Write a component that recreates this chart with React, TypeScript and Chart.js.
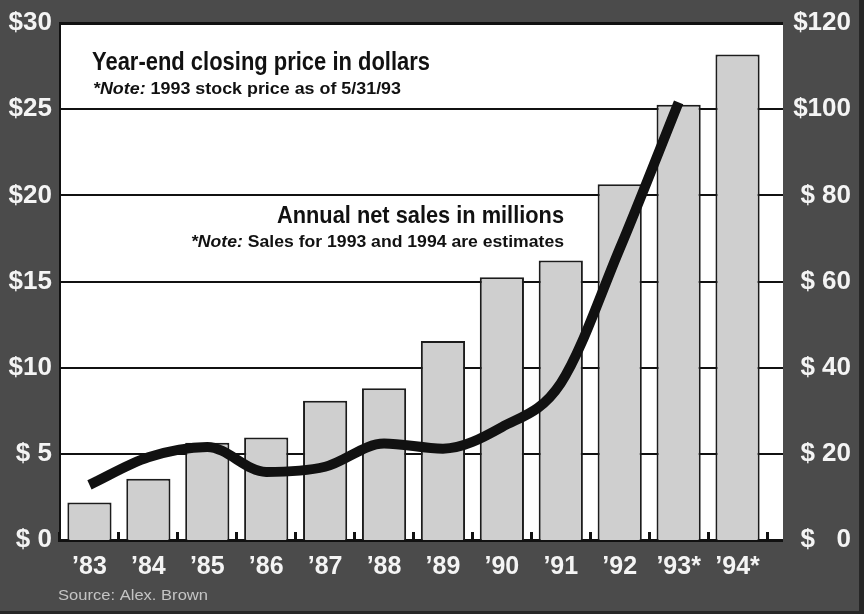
import { useEffect, useRef } from 'react';
import { Chart, registerables } from 'chart.js';

Chart.register(...registerables);

// ---- data ----
const years = ['’83', '’84', '’85', '’86', '’87', '’88', '’89', '’90', '’91', '’92', '’93*', '’94*'];
const annualSalesMillions = [8.7, 14.2, 22.6, 23.8, 32.3, 35.2, 46.2, 61, 64.9, 82.6, 101, 112.7];
const closingPriceDollars = [3.2, 4.8, 5.4, 3.95, 4.25, 5.6, 5.3, 6.55, 9.1, 16.9, 25.4, null];
const priceTickLabels = ['$ 0', '$ 5', '$10', '$15', '$20', '$25', '$30'];
const salesTickLabels = ['$ \u20070', '$ 20', '$ 40', '$ 60', '$ 80', '$100', '$120'];

const titlePrice = 'Year-end closing price in dollars';
const notePriceLead = '*Note:';
const notePriceText = ' 1993 stock price as of 5/31/93';
const titleSales = 'Annual net sales in millions';
const noteSalesLead = '*Note:';
const noteSalesText = ' Sales for 1993 and 1994 are estimates';
const sourceText = 'Source: Alex. Brown';

// ---- style ----
const FAMILY = '"Liberation Sans", Arial, sans-serif';
const NARROW = '"Liberation Sans Narrow", "Liberation Sans", Arial, sans-serif';
const BG = '#4b4b4b';
const INK = '#111111';
const LABEL = '#f4f4f4';
const TICK_FONT = { family: FAMILY, size: 26, weight: 'bold' as const };
const EXT = 16;

type Part = { text: string; font: string };

function fitText(ctx: CanvasRenderingContext2D, parts: Part[], x: number, baseline: number, width: number, align: 'left' | 'right', color: string) {
  let natural = 0;
  for (const p of parts) {
    ctx.font = p.font;
    natural += ctx.measureText(p.text).width;
  }
  const s = width / natural;
  ctx.save();
  ctx.fillStyle = color;
  ctx.textBaseline = 'alphabetic';
  ctx.textAlign = 'left';
  const startX = align === 'left' ? x : x - width;
  ctx.translate(startX, baseline);
  ctx.scale(s, 1);
  let cx = 0;
  for (const p of parts) {
    ctx.font = p.font;
    ctx.fillText(p.text, cx, 0);
    cx += ctx.measureText(p.text).width;
  }
  ctx.restore();
}

const framePlugin = {
  id: 'frame',
  beforeDraw(chart: any) {
    const { ctx, chartArea, width, height } = chart;
    const { left, top, right, bottom } = chartArea;
    ctx.save();
    ctx.fillStyle = BG;
    ctx.fillRect(0, 0, width, height);
    ctx.fillStyle = '#262626';
    ctx.fillRect(width - 5, 0, 5, height);
    ctx.fillRect(0, height - 3, width, 3);
    ctx.fillStyle = '#ffffff';
    ctx.fillRect(left, top, right - left + EXT, bottom - top);
    ctx.restore();
  },
  afterDraw(chart: any) {
    const { ctx, chartArea } = chart;
    const { left, right } = chartArea;
    const y = chart.scales.y;
    ctx.save();
    ctx.strokeStyle = INK;
    y.ticks.forEach((t: any, i: number) => {
      const lw = t.value === 30 || t.value === 0 ? 3 : 2;
      const py = Math.round(y.getPixelForTick(i)) + (lw % 2 ? 0.5 : 0);
      ctx.lineWidth = lw;
      ctx.beginPath();
      ctx.moveTo(t.value === 30 ? left : right - 1, py);
      ctx.lineTo(right + EXT, py);
      ctx.stroke();
    });
    ctx.restore();

    fitText(ctx, [{ text: titlePrice, font: `bold 25px ${NARROW}` }], 92, 70, 338, 'left', INK);
    fitText(ctx, [
      { text: notePriceLead, font: `italic bold 17px ${NARROW}` },
      { text: notePriceText, font: `bold 17px ${NARROW}` },
    ], 93, 94, 308, 'left', INK);
    fitText(ctx, [{ text: titleSales, font: `bold 24px ${NARROW}` }], 564, 223, 287, 'right', INK);
    fitText(ctx, [
      { text: noteSalesLead, font: `italic bold 17px ${NARROW}` },
      { text: noteSalesText, font: `bold 17px ${NARROW}` },
    ], 564, 247, 373, 'right', INK);
    fitText(ctx, [{ text: sourceText, font: `14px ${FAMILY}` }], 58, 600, 150, 'left', '#c4c4c4');
  },
};

const zeroPad = (s: any) => {
  s.paddingTop = 0;
  s.paddingBottom = 0;
  s.paddingLeft = 0;
  s.paddingRight = 0;
};

export default function App() {
  const ref = useRef<HTMLCanvasElement>(null);
  useEffect(() => {
    document.body.style.margin = '0';
    const canvas = ref.current!;

    const chart = new Chart(canvas, {
      data: {
        labels: years,
        datasets: [
          {
            type: 'line' as const,
            label: 'Year-end closing price',
            data: closingPriceDollars,
            yAxisID: 'y',
            borderColor: INK,
            borderWidth: 10,
            pointRadius: 0,
            cubicInterpolationMode: 'monotone' as const,
            fill: false,
            order: 0,
          },
          {
            type: 'bar' as const,
            label: 'Annual net sales',
            data: annualSalesMillions,
            yAxisID: 'y1',
            backgroundColor: '#cfcfcf',
            borderColor: '#1c1c1c',
            borderWidth: 2,
            categoryPercentage: 1,
            barPercentage: 0.75,
            order: 1,
          },
        ],
      } as any,
      options: {
        responsive: false,
        animation: false,
        devicePixelRatio: 1,
        layout: { padding: { top: 23, left: 0, right: 13, bottom: 0 } },
        plugins: { legend: { display: false }, tooltip: { enabled: false } },
        scales: {
          x: {
            type: 'category',
            offset: true,
            grid: { offset: true, drawOnChartArea: false, drawTicks: true, tickLength: -8, lineWidth: 3, color: INK },
            border: { display: true, width: 3, color: INK },
            ticks: { color: LABEL, font: { family: FAMILY, size: 25, weight: 'bold' }, padding: 20, maxRotation: 0, autoSkip: false },
            afterFit: (s: any) => { s.height = 74; zeroPad(s); },
          },
          y: {
            position: 'left',
            min: 0,
            max: 30,
            z: 1,
            ticks: { stepSize: 5, color: LABEL, font: TICK_FONT, padding: 8, callback: (_v: any, i: number) => priceTickLabels[i] },
            grid: { color: INK, lineWidth: (c: any) => (c.tick && (c.tick.value === 30 || c.tick.value === 0) ? 3 : 2), drawTicks: false },
            border: { display: true, width: 2, color: INK },
            afterFit: (s: any) => { s.width = 60; zeroPad(s); },
          },
          y1: {
            position: 'right',
            min: 0,
            max: 120,
            ticks: { stepSize: 20, color: LABEL, font: TICK_FONT, padding: 10, crossAlign: 'far', callback: (_v: any, i: number) => salesTickLabels[i] },
            grid: { display: false, drawTicks: false },
            border: { display: false },
            afterFit: (s: any) => { s.width = 84; zeroPad(s); },
          },
        },
      } as any,
      plugins: [framePlugin],
    });
    return () => chart.destroy();
  }, []);
  return (
    <div style={{ width: 864, height: 614 }}>
      <canvas ref={ref} width={864} height={614} style={{ width: 864, height: 614, display: 'block' }} />
    </div>
  );
}
